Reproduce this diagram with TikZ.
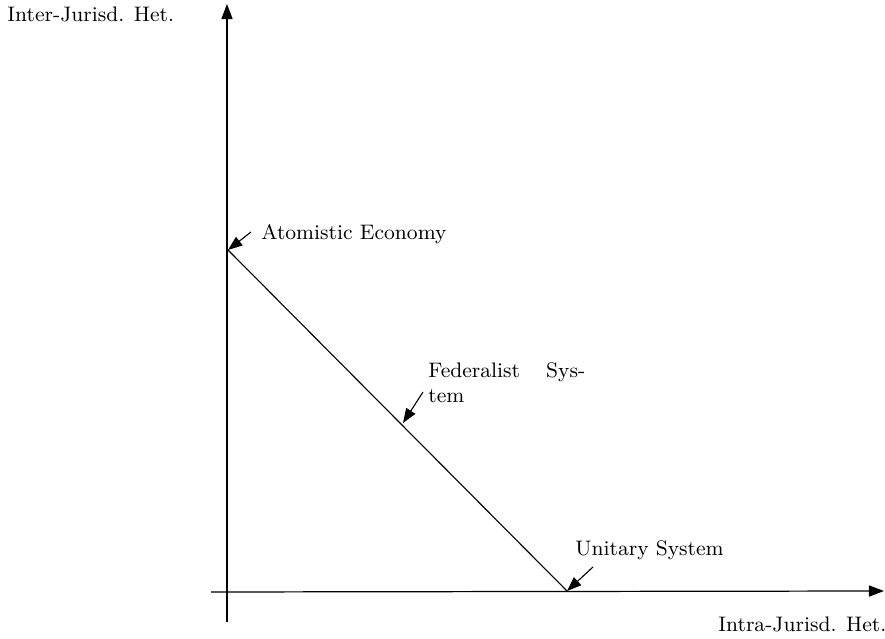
\documentclass[tikz,border=0pt]{standalone}
\usetikzlibrary{arrows.meta}
\begin{document}
\begin{tikzpicture}[x=0.45pt,y=-0.45pt,
  axis/.style={line width=0.55pt,-{Triangle[length=6.8pt,width=5pt]}},
  pointer/.style={line width=0.5pt,-{Triangle[length=6.5pt,width=4.8pt]}},
  lbl/.style={inner sep=0pt,anchor=base west,font=\fontsize{9.45pt}{11.3pt}\selectfont}]
\useasboundingbox (0,0) rectangle (885,639);
% axes
\coordinate (ybot) at (227,622);
\coordinate (ytop) at (227,4);
\coordinate (xleft) at (211,592);
\coordinate (xright) at (884,591);
\draw[axis] (ybot) -- (ytop);
\draw[axis] (xleft) -- (xright);
% line
\coordinate (A) at (228,250);
\coordinate (U) at (567,591);
\coordinate (F) at (403,423);
\draw[line width=0.5pt] (A) -- (U);
% labels
\node[lbl] (yl) at (7,22) {Inter-Jurisd. Het.};
\node[lbl] (xl) at (718,632) {Intra-Jurisd. Het.};
\node[lbl] (at) at (261,240) {Atomistic Economy};
\node[lbl,align=left] (fe) at (428,403) {\makebox[70.6pt][l]{Federalist\hfill Sys-}\\tem};
\node[lbl] (un) at (575,556) {Unitary System};
% pointers
\coordinate (atp) at (251,232);
\coordinate (fep) at (423,392);
\coordinate (unp) at (593,567);
\draw[pointer] (atp) -- (A);
\draw[pointer] (fep) -- (F);
\draw[pointer] (unp) -- (U);
\end{tikzpicture}
\end{document}
